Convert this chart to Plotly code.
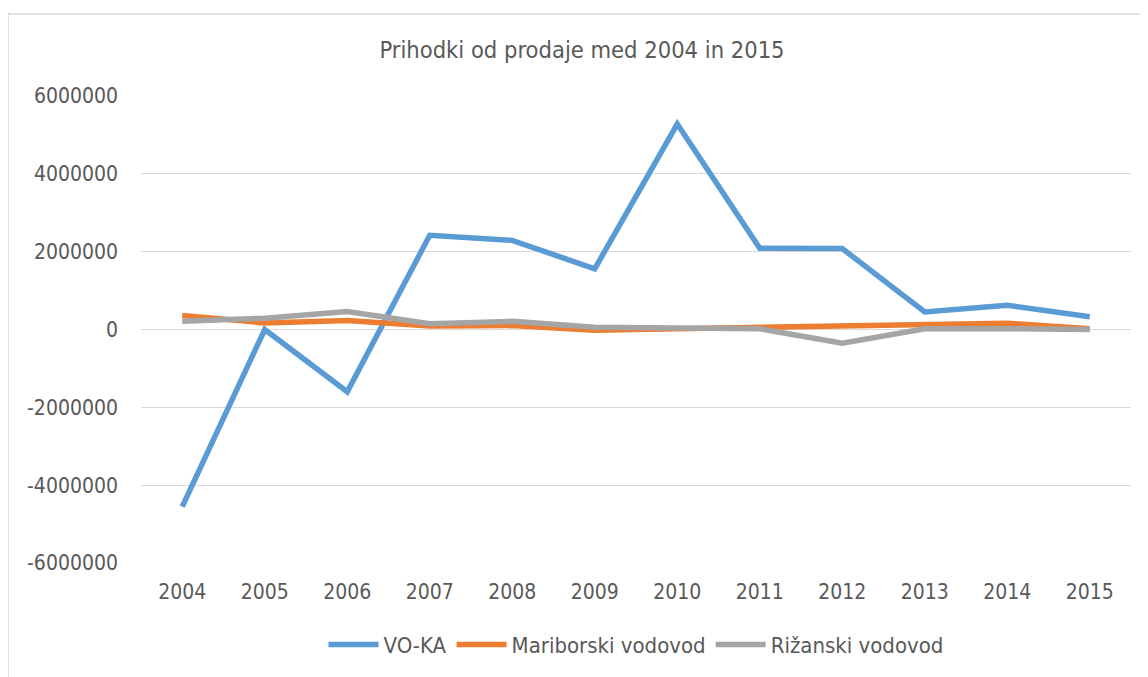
import plotly.graph_objects as go

years = ["2004", "2005", "2006", "2007", "2008", "2009",
         "2010", "2011", "2012", "2013", "2014", "2015"]

voka = [-4550000, 0, -1600000, 2420000, 2290000, 1560000,
        5280000, 2090000, 2080000, 450000, 620000, 330000]
mariborski = [360000, 170000, 230000, 90000, 100000, -20000,
              20000, 60000, 80000, 120000, 160000, 20000]
rizanski = [210000, 290000, 460000, 150000, 210000, 60000,
            40000, 20000, -350000, 20000, 20000, 0]

y_ticks = [-6000000, -4000000, -2000000, 0, 2000000, 4000000, 6000000]
y_tick_labels = [str(v) for v in y_ticks]  # plain hyphen, like Excel

names = ["VO-KA", "Mariborski vodovod", "Rižanski vodovod"]
colors = ["#5B9BD5", "#ED7D31", "#A5A5A5"]
series = [voka, mariborski, rizanski]

font_name = "DejaVu Sans Condensed, Liberation Sans, sans-serif"
text_col = "#595959"

fig = go.Figure()
for name, vals, col in zip(names, series, colors):
    fig.add_trace(go.Scatter(x=years, y=vals, mode="lines", name=name,
                             line=dict(color=col, width=5.5)))

# outer chart border (only top and left edges visible)
fig.add_shape(type="rect", xref="paper", yref="paper",
              x0=-0.1343, x1=1.1, y0=-0.35, y1=1.1756,
              line=dict(color="#d9d9d9", width=1.5), layer="below")

fig.update_layout(
    width=1148, height=677,
    margin=dict(l=133, r=25, t=88, b=122),
    paper_bgcolor="white", plot_bgcolor="white",
    font=dict(family=font_name, size=21, color=text_col),
    title=dict(text="Prihodki od prodaje med 2004 in 2015",
               x=0.5, xanchor="center", y=0.938, yanchor="middle",
               font=dict(size=23.5, color=text_col)),
    showlegend=True,
    legend=dict(orientation="h", x=0.5, xanchor="center",
                y=-0.175, yanchor="middle", font=dict(size=22),
                itemwidth=50),
    xaxis=dict(type="category", range=[-0.5, 11.5], showgrid=False,
               showline=False, zeroline=False, ticks="",
               ticklabelstandoff=14),
    yaxis=dict(range=[-6000000, 6000000], tickvals=y_ticks,
               ticktext=y_tick_labels, showgrid=True, gridcolor="#d9d9d9",
               gridwidth=1.3, zeroline=True, zerolinecolor="#d9d9d9",
               zerolinewidth=1.3, showline=False, ticks="",
               ticklabelstandoff=22),
)

fig.write_html("out.html")
